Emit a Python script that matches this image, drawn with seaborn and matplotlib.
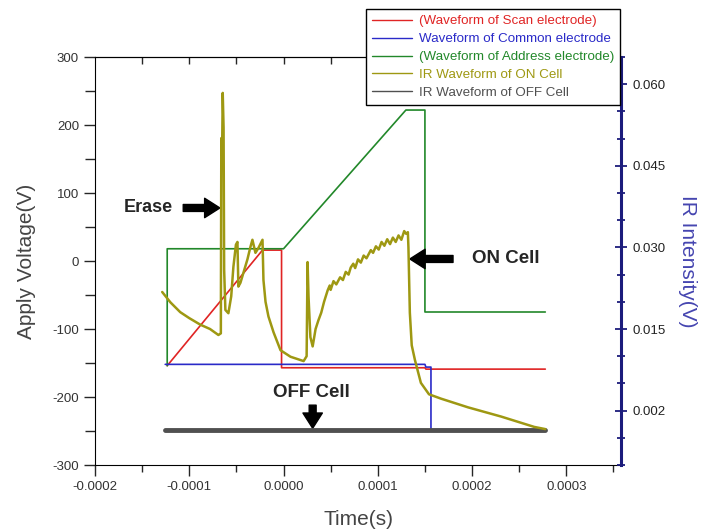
import matplotlib
matplotlib.use("Agg")
import matplotlib.pyplot as plt
from matplotlib.ticker import MultipleLocator, FixedLocator
import seaborn as sns
import pandas as pd

# Temps en microsecondes, tensions en V (axe gauche)
scan_t = [-123.4, -22.3, -2.1, -2.1, 150.0, 151.0, 277.7]
scan_v = [-154, 16, 16, -157, -157, -159, -159]

common_t = [-125.5, 150.0, 151.0, 156.4, 156.4, 277.7]
common_v = [-152, -152, -156, -156, -248, -248]

address_t = [-123.4, -123.4, 0.0, 129.8, 150.0, 150.0, 277.7]
address_v = [-154, 18, 18, 222, 222, -75, -75]

# IR (axe droit, V)
on_t = [-128.7, -120.0, -109.6, -100.0, -88.3, -78.0, -69.1, -66.5, -66.0, -65.2,
        -64.5, -63.6, -63.0, -61.7, -58.5, -55.5, -53.2, -50.5, -48.9, -47.9,
        -45.7, -38.3, -35.1, -33.0, -29.8, -26.6, -22.3, -21.3, -19.1, -16.0,
        -10.6, -3.2, 7.4, 21.3, 24.5, 25.5, 26.5, 28.5, 30.9, 34.0,
        37.0, 40.0, 43.0, 46.8, 49.0, 50.0, 53.0, 56.0, 60.0, 63.0,
        66.0, 69.0, 71.3, 74.0, 76.0, 79.0, 82.0, 85.0, 88.0, 92.6,
        95.0, 98.0, 101.0, 104.0, 107.0, 110.0, 113.0, 116.0, 119.0, 122.0,
        125.0, 128.0, 130.0, 131.9, 132.5, 134.0, 136.0, 139.4, 145.7, 154.3,
        167.0, 195.7, 230.9, 266.0, 277.7]
on_ir = [0.0218, 0.0199, 0.0181, 0.0170, 0.0158, 0.0150, 0.0139, 0.0142, 0.0501, 0.0470,
         0.0584, 0.0520, 0.0259, 0.0185, 0.0179, 0.0210, 0.0264, 0.0305, 0.0310, 0.0228,
         0.0235, 0.0278, 0.0301, 0.0314, 0.0290, 0.0299, 0.0314, 0.0240, 0.0200, 0.0173,
         0.0144, 0.0111, 0.0099, 0.0091, 0.0100, 0.0273, 0.0210, 0.0135, 0.0118, 0.0150,
         0.0166, 0.0180, 0.0200, 0.0221, 0.0230, 0.0222, 0.0238, 0.0232, 0.0245, 0.0240,
         0.0255, 0.0250, 0.0263, 0.0270, 0.0262, 0.0278, 0.0272, 0.0285, 0.0280, 0.0295,
         0.0290, 0.0302, 0.0296, 0.0310, 0.0303, 0.0315, 0.0306, 0.0318, 0.0310, 0.0322,
         0.0314, 0.0330, 0.0325, 0.0328, 0.0300, 0.0180, 0.0120, 0.0093, 0.0051, 0.0030,
         0.0022, 0.0006, -0.0011, -0.0030, -0.0034]

off_t = [-125.5, 277.7]
off_ir = [-0.0035, -0.0035]

x_ticks = [-0.0002, -0.0001, 0.0, 0.0001, 0.0002, 0.0003]
x_tick_labels = ["-0.0002", "-0.0001", "0.0000", "0.0001", "0.0002", "0.0003"]
ir_ticks = [0.060, 0.045, 0.030, 0.015, 0.000]
ir_tick_labels = ["0.060", "0.045", "0.030", "0.015", "0.002"]

labels = ["(Waveform of Scan electrode)", "Waveform of Common electrode",
          "(Waveform of Address electrode)", "IR Waveform of ON Cell",
          "IR Waveform of OFF Cell"]
colors = ["#e02424", "#2a2ac8", "#22882a", "#9e9812", "#505050"]
navy = "#1c1c7c"

sns.set_style("ticks")
plt.rcParams["font.family"] = ["Liberation Sans", "DejaVu Sans"]
plt.rcParams["axes.unicode_minus"] = False
plt.rcParams["axes.edgecolor"] = "black"

fig = plt.figure(figsize=(7.18, 5.31), dpi=100)
ax = fig.add_axes([95 / 718, 1 - 465 / 531, (621 - 95) / 718, (465 - 57) / 531])
ax2 = ax.twinx()

def frame(t, y):
    return pd.DataFrame({"Time": [v / 1e6 for v in t], "Y": y})

sns.lineplot(data=frame(scan_t, scan_v), x="Time", y="Y", ax=ax, color=colors[0],
             lw=1.2, estimator=None, sort=False, label=labels[0])
sns.lineplot(data=frame(address_t, address_v), x="Time", y="Y", ax=ax, color=colors[2],
             lw=1.2, estimator=None, sort=False, label=labels[2])
sns.lineplot(data=frame(common_t, common_v), x="Time", y="Y", ax=ax, color=colors[1],
             lw=1.2, estimator=None, sort=False, label=labels[1])
sns.lineplot(data=frame(off_t, off_ir), x="Time", y="Y", ax=ax2, color=colors[4],
             lw=3.5, estimator=None, sort=False, label=labels[4])
sns.lineplot(data=frame(on_t, on_ir), x="Time", y="Y", ax=ax2, color=colors[3],
             lw=1.8, estimator=None, sort=False, label=labels[3])

handles = {}
for a in (ax, ax2):
    h, l = a.get_legend_handles_labels()
    handles.update(dict(zip(l, h)))
    if a.get_legend():
        a.get_legend().remove()

# Axes
ax.set_xlim(-200e-6, 358e-6)
ax.set_ylim(-300, 300)
ax2.set_ylim(-0.010, 0.065)
ax.xaxis.set_major_locator(FixedLocator(x_ticks))
ax.set_xticklabels(x_tick_labels)
ax.xaxis.set_minor_locator(MultipleLocator(0.00005))
ax.yaxis.set_major_locator(MultipleLocator(100))
ax.yaxis.set_minor_locator(MultipleLocator(50))
ax.tick_params(which="major", direction="out", length=8, width=1, labelsize=9.5,
               labelcolor="#333333", right=False, top=False)
ax.tick_params(which="minor", direction="out", length=5, width=1, right=False, top=False)
ax.tick_params(axis="y", which="minor", length=7)

top = ax.secondary_xaxis("top")
top.set_xticks([-0.00015, -0.0001, -0.00005, 0.0, 0.00005, 0.0001, 0.00015, 0.0002,
                0.00025, 0.0003, 0.00035], labels=[""] * 11)
top.tick_params(direction="in", length=5, width=1)

ax2.yaxis.set_major_locator(FixedLocator(ir_ticks))
ax2.set_yticklabels(ir_tick_labels)
ax2.yaxis.set_minor_locator(MultipleLocator(0.005))
ax2.tick_params(axis="y", which="major", direction="inout", length=9, width=1.3,
                color=navy, labelsize=9.5, labelcolor="#222222", pad=4)
ax2.tick_params(axis="y", which="minor", direction="inout", length=6, width=1.3, color=navy)
for s in ("left", "top", "bottom"):
    ax2.spines[s].set_visible(False)
ax2.spines["right"].set_color(navy)
ax2.spines["right"].set_linewidth(2.2)
ax.spines["right"].set_visible(False)

ax.set_xlabel("Time(s)", fontsize=15, color="#444444", labelpad=12)
ax.set_ylabel("Apply Voltage(V)", fontsize=15, color="#444444", labelpad=12)
ax2.set_ylabel("IR Intensity(V)", fontsize=15, color="#4545b0", rotation=270, labelpad=22)

# Annotations
arrow = dict(facecolor="black", edgecolor="black", width=5, headwidth=14,
             headlength=11, shrink=0)
ax.text(-117e-6, 78, "Erase", ha="right", va="center", fontsize=13, fontweight="bold")
ax.annotate("", xy=(-67.5e-6, 78), xytext=(-106.4e-6, 78), arrowprops=arrow)
ax.text(200e-6, 3, "ON Cell", ha="left", va="center", fontsize=13.5, fontweight="bold")
ax.annotate("", xy=(134e-6, 3), xytext=(179.8e-6, 3), arrowprops=arrow)
ax.text(-11.7e-6, -194, "OFF Cell", ha="left", va="center", fontsize=13.5, fontweight="bold")
ax.annotate("", xy=(30.9e-6, -246), xytext=(30.9e-6, -212), arrowprops=arrow)

leg = fig.legend([handles[l] for l in labels], labels, loc="upper left",
                 bbox_to_anchor=(366 / 718, 1 - 9 / 531), bbox_transform=fig.transFigure,
                 fontsize=9.6, frameon=True, fancybox=False, edgecolor="black",
                 framealpha=1, labelcolor=colors, handlelength=3.0, borderaxespad=0,
                 borderpad=0.45, labelspacing=0.42, handletextpad=0.5)
leg.get_frame().set_linewidth(1.0)
for line in leg.get_lines():
    line.set_linewidth(1.0)

fig.savefig("out.png", dpi=100)
